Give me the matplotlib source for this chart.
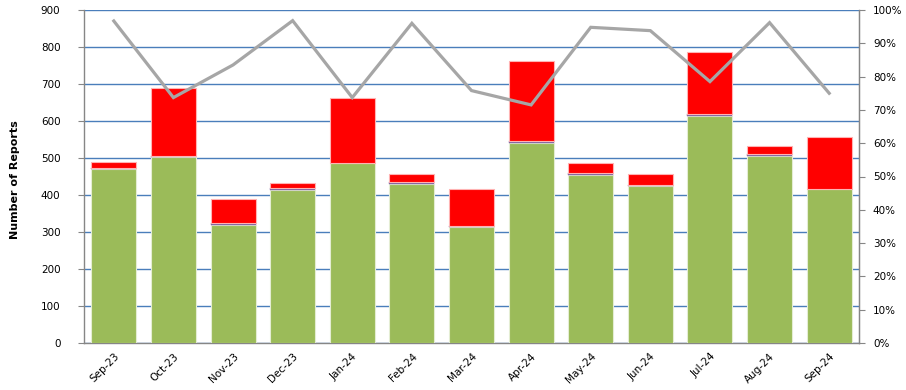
import matplotlib
matplotlib.use("Agg")
import matplotlib.pyplot as plt
import numpy as np
from matplotlib.ticker import FuncFormatter, MultipleLocator

months = ["Sep-23", "Oct-23", "Nov-23", "Dec-23", "Jan-24", "Feb-24", "Mar-24",
          "Apr-24", "May-24", "Jun-24", "Jul-24", "Aug-24", "Sep-24"]
green_vals = [470, 502, 319, 414, 486, 431, 314, 541, 454, 425, 614, 505, 415]
purple_vals = [3, 3, 5, 6, 1, 5, 1, 5, 5, 3, 4, 7, 2]
total_vals = [490, 689, 389, 433, 662, 456, 416, 762, 486, 458, 787, 533, 556]
red_vals = [t - g - p for t, g, p in zip(total_vals, green_vals, purple_vals)]
pct_vals = [96.7, 73.7, 83.5, 96.8, 73.7, 96.0, 75.8, 71.5, 94.8, 93.8, 78.5, 96.2, 75.0]

plt.rcParams['font.family'] = ['DejaVu Sans']

fig = plt.figure(figsize=(9.06, 3.9), dpi=100)
ax = fig.add_axes([84/906, 1-343/390, (859-84)/906, (343-10)/390])

x = np.arange(len(months))
w = 0.755
green = np.array(green_vals)
purple = np.array(purple_vals)
red = np.array(red_vals)

ax.bar(x, green, w, color='#9BBB59', edgecolor='#E4EDD3', linewidth=0.8, zorder=3)
ax.bar(x, purple, w, bottom=green, color='#8064A2', edgecolor='#8064A2', linewidth=0.3, zorder=3)
ax.bar(x, red, w, bottom=green + purple, color='#FF0000', edgecolor='#FFB3B3', linewidth=0.8, zorder=3)

ax.set_xlim(-0.5, len(months) - 0.5)
ax.set_ylim(0, 900)
ax.yaxis.set_major_locator(MultipleLocator(100))
ax.grid(axis='y', color='#4A7EBB', linewidth=1.0, zorder=0)
ax.set_axisbelow(True)

ax.spines['top'].set_visible(False)
for s in ['left', 'bottom', 'right']:
    ax.spines[s].set_color('#868686')
    ax.spines[s].set_linewidth(1.0)

ax.set_xticks(x)
ax.set_xticklabels(months, rotation=45, ha='right', rotation_mode='anchor', fontsize=7.5)
ax.tick_params(axis='x', length=0, pad=6)
ax.tick_params(axis='y', length=4, color='#868686', labelsize=7.5, pad=13)

ax.set_ylabel("Number of Reports", fontsize=8, fontweight='bold')
ax.yaxis.set_label_coords(-0.082, 0.49)

ax2 = ax.twinx()
ax2.plot(x, pct_vals, color='#A6A6A6', linewidth=2.3, zorder=5, solid_joinstyle='miter')
ax2.set_ylim(0, 100)
ax2.yaxis.set_major_locator(MultipleLocator(10))
ax2.yaxis.set_major_formatter(FuncFormatter(lambda v, p: f"{int(round(v))}%"))
ax2.tick_params(axis='y', length=4, color='#868686', labelsize=7.5, pad=6)
for s in ['top', 'left', 'bottom']:
    ax2.spines[s].set_visible(False)
ax2.spines['right'].set_color('#868686')

fig.savefig("out.png", dpi=100)
